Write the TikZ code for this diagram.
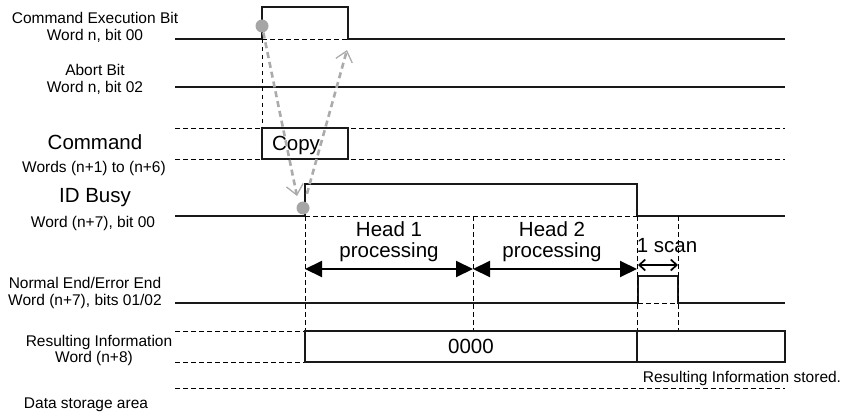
\documentclass[tikz,border=0pt]{standalone}
\usepackage{fontspec}
\setmainfont{Liberation Sans}
\usetikzlibrary{arrows.meta,positioning,calc}

\tikzset{
  sig/.style={line width=2.6pt,draw=black!90},
  grid/.style={line width=0.9pt,dash pattern=on 4.5pt off 3.5pt},
  lbl/.style={font=\fontsize{15.5}{17}\selectfont,align=center,inner sep=0pt},
  biglbl/.style={font=\fontsize{20.5}{21}\selectfont,align=center,inner sep=0pt},
  dot/.style={circle,fill=black!35,minimum size=13pt,inner sep=0pt},
  copyarr/.style={draw=black!33,line width=2.6pt,dash pattern=on 6pt off 4pt,
    -{Straight Barb[length=10pt,width=17pt,line width=1.3pt]}},
  span/.style={line width=2pt,{Triangle[length=17pt,width=16pt]}-{Triangle[length=17pt,width=16pt]}},
  scanspan/.style={line width=1.7pt,{Straight Barb[length=6pt,width=11pt]}-{Straight Barb[length=6pt,width=11pt]}},
}

\begin{document}
\begin{tikzpicture}[x=1pt,y=-1pt]
  \useasboundingbox (0,0) rectangle (846,417);

  % 信号名
  \node[lbl] (cebit) at (95,27) {Command Execution Bit\\Word n, bit 00};
  \node[lbl] (abort) at (95,79) {Abort Bit\\Word n, bit 02};
  \node[biglbl] (cmd) at (95,142) {Command};
  \node[lbl] (cmdw) at (94,168) {Words (n+1) to (n+6)};
  \node[biglbl] (busy) at (95,198) {ID Busy};
  \node[lbl] (busyw) at (93,223) {Word (n+7), bit 00};
  \node[lbl] (endbit) at (85,293) {Normal End/Error End\\Word (n+7), bits 01/02};
  \node[lbl] (resinfo) at (99,342) {Resulting Information};
  \node[lbl] (resw) at (94,358) {Word (n+8)};
  \node[lbl] (store) at (86,405) {Data storage area};

  % 波形
  \draw[sig] (175,39) -- (262,39) -- (262,7) -- (348,7) -- (348,39) -- (785,39);
  \draw[grid] (262,39) -- (348,39);
  \draw[sig] (175,87) -- (785,87);
  \draw[grid] (175,128) -- (785,128);
  \draw[grid] (175,159) -- (785,159);
  \draw[sig,fill=white] (262,128) rectangle (348,159);
  \node[biglbl] (copy) at (296,145) {Copy};
  \draw[sig] (175,216) -- (305,216) -- (305,184) -- (637,184) -- (637,216) -- (785,216);
  \draw[grid] (305,216) -- (637,216);
  \draw[sig] (175,303) -- (638,303) -- (638,276) -- (678,276) -- (678,303) -- (785,303);
  \draw[grid] (638,303) -- (678,303);
  \draw[grid] (175,331) -- (305,331);
  \draw[grid] (175,362) -- (305,362);
  \draw[grid] (175,388) -- (785,388);

  % 補助線
  \draw[grid] (262,39) -- (262,128);
  \draw[grid] (305,216) -- (305,331);
  \draw[grid] (473,216) -- (473,331);
  \draw[grid] (637,216) -- (637,331);
  \draw[grid] (678,216) -- (678,331);

  % 結果情報
  \draw[sig] (305,331) rectangle (637,362);
  \draw[sig] (637,331) rectangle (785,362);
  \node[biglbl] (zero) at (471,346) {0000};
  \node[lbl] (stored) at (742,378) {Resulting Information stored.};

  % コピーの矢印
  \node[dot] (start) at (262,26) {};
  \node[dot] (busyon) at (303,208) {};
  \coordinate (copyin) at (297,196);
  \coordinate (copyout) at (347,50);
  \draw[copyarr] (start) -- (copyin);
  \draw[copyarr,shorten <=8pt] (busyon) -- (copyout);

  % 処理時間
  \coordinate (h1a) at (305,269);
  \coordinate (h1b) at (473,269);
  \coordinate (h2b) at (637,269);
  \coordinate (sa) at (638,265);
  \coordinate (sb) at (678,265);
  \draw[span] (h1a) -- (h1b);
  \draw[span] (h1b) -- (h2b);
  \draw[scanspan] (sa) -- (sb);
  \node[biglbl] (head1) at (389,242) {Head 1\\processing};
  \node[biglbl] (head2) at (552,242) {Head 2\\processing};
  \node[biglbl] (scan) at (667,246) {1 scan};
\end{tikzpicture}
\end{document}
